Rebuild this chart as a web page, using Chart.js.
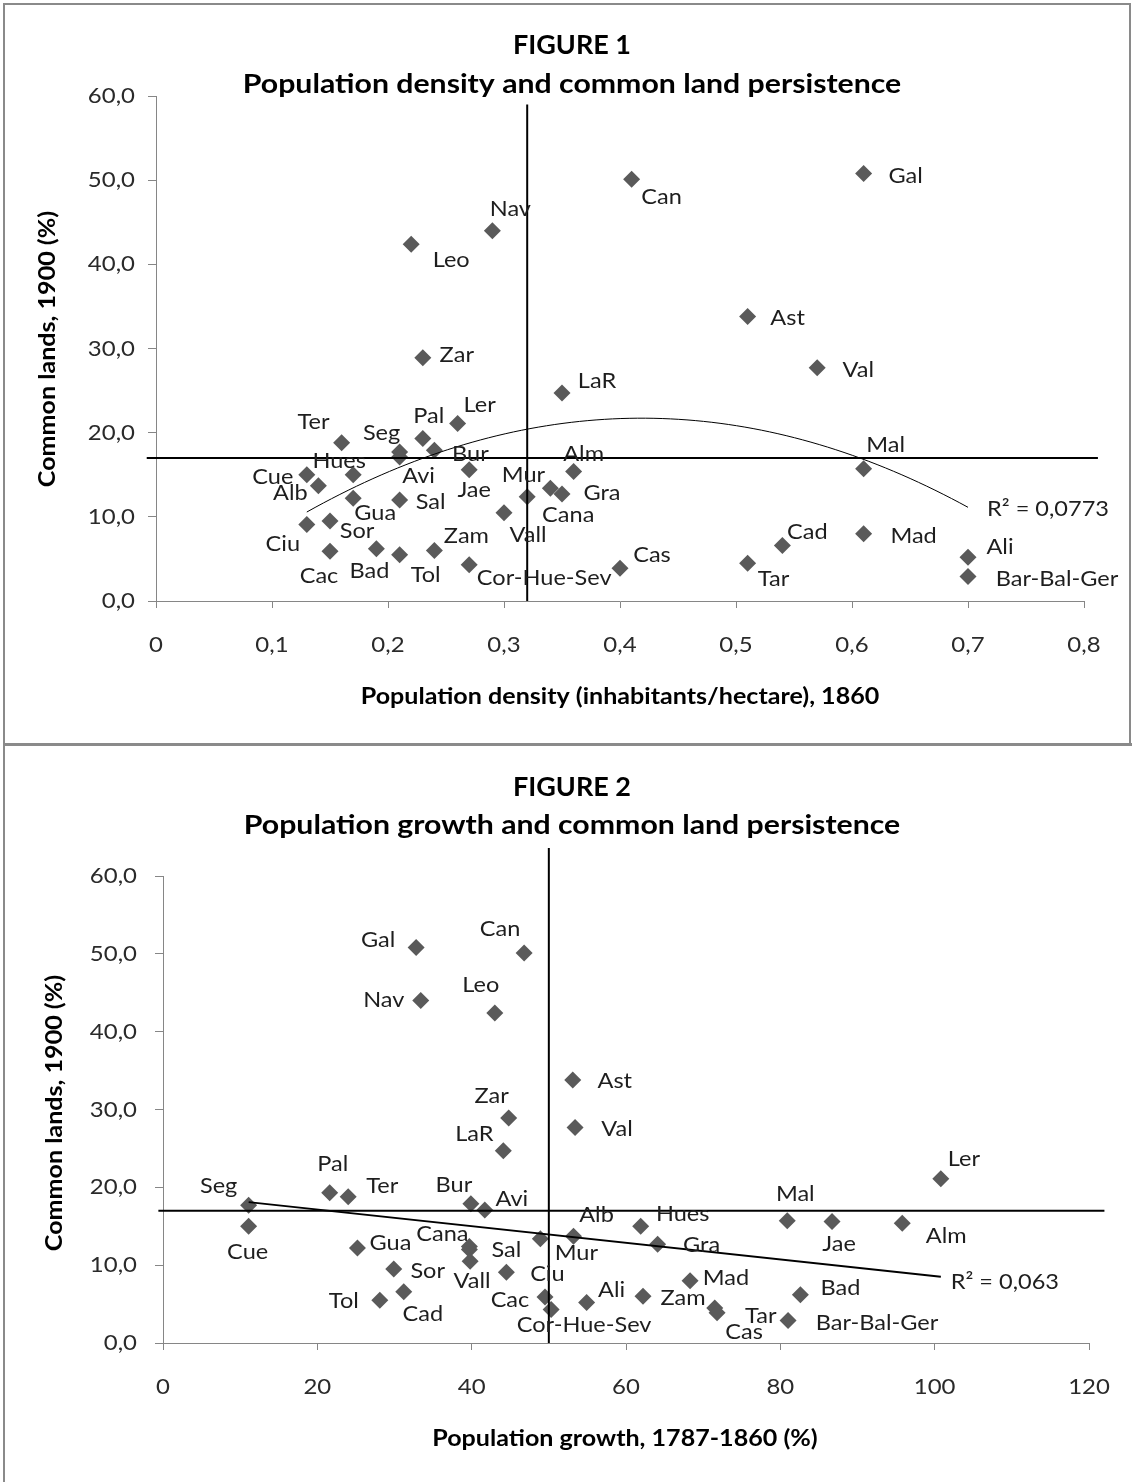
<!DOCTYPE html>
<html>
<head>
<meta charset="utf-8">
<script src="https://cdn.jsdelivr.net/npm/chart.js@4.4.1/dist/chart.umd.min.js"></script>
<style>
  body { margin: 0; background: #fff; }
  #page { position: relative; width: 1132px; height: 1482px; overflow: hidden; }
  canvas { position: absolute; left: 0; }
  #c1 { top: 0; }
  #c2 { top: 745px; }
  .frame { position: absolute; background: #8a8a8a; }
</style>
</head>
<body>
<div id="page">
  <div class="frame" style="left:3px;top:3px;width:1128px;height:2px"></div>
  <div class="frame" style="left:3px;top:3px;width:2px;height:1479px"></div>
  <div class="frame" style="left:1129px;top:3px;width:2px;height:742px"></div>
  <div class="frame" style="left:3px;top:743px;width:1129px;height:3px"></div>
  <canvas id="c1" width="1132" height="745"></canvas>
  <canvas id="c2" width="1132" height="737"></canvas>
</div>
<script>
// provinces, same order in every array
const provinces = ["Gal", "Can", "Nav", "Leo", "Ast", "Zar", "Val", "LaR", "Ler", "Pal",
  "Ter", "Bur", "Seg", "Avi", "Mal", "Jae", "Alm", "Hues", "Cue", "Alb",
  "Mur", "Gra", "Cana", "Gua", "Sal", "Vall", "Sor", "Ciu", "Mad", "Cad",
  "Bad", "Zam", "Cac", "Tol", "Ali", "Tar", "Cor-Hue-Sev", "Cas", "Bar-Bal-Ger"];

// common lands 1900 (%)
const commonLands = [50.8, 50.1, 44.0, 42.4, 33.8, 28.9, 27.7, 24.7, 21.1, 19.3,
  18.8, 17.9, 17.7, 17.1, 15.7, 15.6, 15.4, 15.0, 15.0, 13.7,
  13.4, 12.7, 12.4, 12.2, 12.0, 10.5, 9.5, 9.1, 8.0, 6.6,
  6.2, 6.0, 5.9, 5.5, 5.2, 4.5, 4.3, 3.9, 2.9];

// population density 1860 (inhabitants/hectare)
const density = [0.61, 0.41, 0.29, 0.22, 0.51, 0.23, 0.57, 0.35, 0.26, 0.23,
  0.16, 0.24, 0.21, 0.21, 0.61, 0.27, 0.36, 0.17, 0.13, 0.14,
  0.34, 0.35, 0.32, 0.17, 0.21, 0.30, 0.15, 0.13, 0.61, 0.54,
  0.19, 0.24, 0.15, 0.21, 0.70, 0.51, 0.27, 0.40, 0.70];

// population growth 1787-1860 (%)
const growth = [32.8, 46.8, 33.4, 43.0, 53.1, 44.8, 53.4, 44.1, 100.8, 21.6,
  24.0, 39.9, 11.1, 41.7, 80.9, 86.7, 95.8, 61.9, 11.1, 53.2,
  48.9, 64.1, 39.7, 25.2, 39.7, 39.8, 29.9, 44.5, 68.3, 31.2,
  82.6, 62.2, 49.5, 28.1, 54.9, 71.5, 50.3, 71.8, 81.0];

// reference lines (means)
const meanDensity = 0.32;
const meanGrowth = 50;
const meanCommon = 17.0;

// figure 2 linear trend at lowest / highest growth
const trendFig2 = [18.1, 8.5];

const r2Fig1 = "R² = 0,0773";
const r2Fig2 = "R² = 0,063";

const densityTicks = ["0", "0,1", "0,2", "0,3", "0,4", "0,5", "0,6", "0,7", "0,8"];
const growthTicks = ["0", "20", "40", "60", "80", "100", "120"];
const commonTicks = ["0,0", "10,0", "20,0", "30,0", "40,0", "50,0", "60,0"];

// where each data label sits relative to its marker (px)
const labelOffsets1 = {
  Gal: [42, 2], Can: [30, 18], Nav: [18, -22], Leo: [40, 16], Ast: [40, 1], Zar: [34, -3],
  Val: [41, 2], LaR: [35, -12], Ler: [22, -19], Pal: [6, -23], Ter: [-28, -21], Bur: [36, 4],
  Seg: [-18, -19], Avi: [19, 19], Mal: [22, -24], Jae: [5, 20], Alm: [10, -17], Hues: [-14, -14],
  Cue: [-34, 2], Alb: [-28, 7], Mur: [-27, -13], Gra: [40, -1], Cana: [41, 18], Gua: [22, 15],
  Sal: [31, 2], Vall: [24, 22], Sor: [27, 10], Ciu: [-24, 19], Mad: [50, 2], Cad: [25, -14],
  Bad: [-7, 22], Zam: [32, -15], Cac: [-11, 25], Tol: [26, 20], Ali: [32, -10], Tar: [26, 16],
  "Cor-Hue-Sev": [75, 13], Cas: [32, -13], "Bar-Bal-Ger": [89, 2]
};
const labelOffsets2 = {
  Gal: [-38, -8], Can: [-24, -24], Nav: [-37, -1], Leo: [-14, -28], Ast: [42, 1], Zar: [-17, -22],
  Val: [42, 2], LaR: [-29, -17], Ler: [23, -20], Pal: [3, -29], Ter: [34, -11], Bur: [-17, -19],
  Seg: [-30, -19], Avi: [27, -11], Mal: [8, -27], Jae: [7, 22], Alm: [44, 13], Hues: [42, -12],
  Cue: [-1, 26], Alb: [23, -21], Mur: [36, 14], Gra: [44, 1], Cana: [-27, -13], Gua: [33, -5],
  Sal: [37, 0], Vall: [2, 20], Sor: [34, 2], Ciu: [41, 2], Mad: [36, -3], Cad: [19, 22],
  Bad: [40, -7], Zam: [40, 2], Cac: [-35, 3], Tol: [-36, 1], Ali: [25, -13], Tar: [46, 8],
  "Cor-Hue-Sev": [33, 15], Cas: [27, 19], "Bar-Bal-Ger": [89, 2]
};

const FONT = "Lato";
const markerColor = "#5a5a5a";
const axisColor = "#868686";

// the original text is a bit wider than Lato, so stretch it horizontally
function stretchedText(ctx, text, x, y, font, sx, rot) {
  ctx.save();
  ctx.font = font;
  ctx.translate(x, y);
  if (rot) ctx.rotate(rot);
  ctx.scale(sx, 1);
  ctx.fillText(text, 0, 0);
  ctx.restore();
}

// least squares polynomial fit, returns coefficients a0..an
function polyFit(xs, ys, order) {
  const n = order + 1;
  const A = [];
  for (let r = 0; r < n; r++) {
    A.push(new Array(n + 1).fill(0));
  }
  xs.forEach((x, i) => {
    for (let r = 0; r < n; r++) {
      for (let c = 0; c < n; c++) A[r][c] += Math.pow(x, r + c);
      A[r][n] += ys[i] * Math.pow(x, r);
    }
  });
  for (let k = 0; k < n; k++) {
    for (let r = k + 1; r < n; r++) {
      const f = A[r][k] / A[k][k];
      for (let c = k; c <= n; c++) A[r][c] -= f * A[k][c];
    }
  }
  const coef = new Array(n).fill(0);
  for (let r = n - 1; r >= 0; r--) {
    let s = A[r][n];
    for (let c = r + 1; c < n; c++) s -= A[r][c] * coef[c];
    coef[r] = s / A[r][r];
  }
  return coef;
}

function quadTrend(xs, ys) {
  const coef = polyFit(xs, ys, 2);
  const lo = Math.min(...xs), hi = Math.max(...xs);
  const pts = [];
  for (let i = 0; i <= 80; i++) {
    const x = lo + (hi - lo) * i / 80;
    pts.push({ x: x, y: coef[0] + coef[1] * x + coef[2] * x * x });
  }
  return pts;
}

const pointLabels = {
  id: "pointLabels",
  afterDatasetsDraw(chart, args, opts) {
    const ctx = chart.ctx;
    const meta = chart.getDatasetMeta(0);
    const font = "22px " + FONT;
    ctx.save();
    ctx.fillStyle = "#1e1e1e";
    ctx.textAlign = "center";
    ctx.textBaseline = "middle";
    meta.data.forEach((pt, i) => {
      const off = opts.offsets[provinces[i]] || [25, 0];
      stretchedText(ctx, provinces[i], pt.x + off[0], pt.y + off[1], font, 1.07);
    });
    // R2 label next to the end of the trend line
    const tr = chart.getDatasetMeta(1).data;
    const end = tr[tr.length - 1];
    stretchedText(ctx, opts.r2, end.x + opts.r2Offset[0], end.y + opts.r2Offset[1], font, 1.07);
    ctx.restore();
  }
};

const decorations = {
  id: "decorations",
  afterDraw(chart, args, opts) {
    const ctx = chart.ctx;
    ctx.save();
    ctx.textBaseline = "middle";
    // tick labels
    ctx.fillStyle = "#2a2a2a";
    const tickFont = "22px " + FONT;
    const xs = chart.scales.x, ys = chart.scales.y;
    ctx.textAlign = "center";
    xs.ticks.forEach((t, i) => {
      stretchedText(ctx, opts.xTicks[i], xs.getPixelForValue(t.value), chart.chartArea.bottom + 44, tickFont, 1.09);
    });
    ctx.textAlign = "right";
    ys.ticks.forEach((t, i) => {
      stretchedText(ctx, commonTicks[i], chart.chartArea.left - opts.yGap, ys.getPixelForValue(t.value), tickFont, 1.09);
    });
    // titles
    ctx.fillStyle = "#000";
    ctx.textAlign = "center";
    opts.items.forEach(t => {
      stretchedText(ctx, t.text, t.x, t.y, t.font, t.sx, t.rot);
    });
    ctx.restore();
  }
};

function makeChart(canvasId, xs, cfg) {
  const pts = xs.map((x, i) => ({ x: x, y: commonLands[i] }));
  return new Chart(document.getElementById(canvasId), {
    type: "scatter",
    data: {
      datasets: [
        {
          data: pts,
          pointStyle: "rectRot",
          pointRadius: 8.5,
          backgroundColor: markerColor,
          borderColor: markerColor,
          borderWidth: 0,
          order: 1
        },
        {
          data: cfg.trend,
          showLine: true,
          pointRadius: 0,
          borderColor: "#000",
          borderWidth: cfg.trendWidth,
          order: 0
        },
        {
          data: cfg.hLine,
          showLine: true,
          pointRadius: 0,
          borderColor: "#000",
          borderWidth: 2,
          clip: false,
          order: 0
        },
        {
          data: cfg.vLine,
          showLine: true,
          pointRadius: 0,
          borderColor: "#000",
          borderWidth: 2,
          clip: false,
          order: 0
        }
      ]
    },
    options: {
      responsive: false,
      animation: false,
      events: [],
      layout: { padding: cfg.padding },
      plugins: {
        legend: { display: false },
        tooltip: { enabled: false },
        pointLabels: { offsets: cfg.offsets, r2: cfg.r2, r2Offset: cfg.r2Offset },
        decorations: { items: cfg.texts, xTicks: cfg.xTicks, yGap: cfg.yGap }
      },
      scales: {
        x: {
          type: "linear",
          min: cfg.xMin,
          max: cfg.xMax,
          afterBuildTicks: s => { s.ticks = cfg.xTicks.map((t, i) => ({ value: cfg.xMin + i * cfg.xStep })); },
          afterFit: s => { s.height = 60; },
          ticks: { display: false },
          grid: { drawOnChartArea: false, drawTicks: true, tickLength: 7, color: axisColor },
          border: { color: axisColor, width: 1 }
        },
        y: {
          min: 0,
          max: 60,
          afterBuildTicks: s => { s.ticks = commonTicks.map((t, i) => ({ value: i * 10 })); },
          afterFit: s => { s.width = cfg.yWidth; },
          ticks: { display: false },
          grid: { drawOnChartArea: false, drawTicks: true, tickLength: 8, color: axisColor },
          border: { color: axisColor, width: 1 }
        }
      }
    },
    plugins: [pointLabels, decorations]
  });
}

makeChart("c1", density, {
  trend: quadTrend(density, commonLands),
  trendWidth: 1,
  xMin: 0, xMax: 0.8, xStep: 0.1,
  xTicks: densityTicks,
  yWidth: 156,
  yGap: 21,
  padding: { left: 0, right: 48, top: 96, bottom: 84 },
  hLine: [{ x: -0.008, y: meanCommon }, { x: 0.812, y: meanCommon }],
  vLine: [{ x: meanDensity, y: 0 }, { x: meanDensity, y: 59 }],
  offsets: labelOffsets1,
  r2: r2Fig1,
  r2Offset: [80, 2],
  texts: [
    { text: "FIGURE 1", x: 572, y: 45, font: "bold 27px " + FONT, sx: 1.0 },
    { text: "Population density and common land persistence", x: 572, y: 84, font: "bold 27px " + FONT, sx: 1.12 },
    { text: "Population density (inhabitants/hectare), 1860", x: 620, y: 697, font: "bold 22px " + FONT, sx: 1.14 },
    { text: "Common lands, 1900 (%)", x: 48, y: 349, font: "bold 22px " + FONT, sx: 1.14, rot: -Math.PI / 2 }
  ]
});

makeChart("c2", growth, {
  trend: [{ x: Math.min(...growth), y: trendFig2[0] }, { x: Math.max(...growth), y: trendFig2[1] }],
  trendWidth: 2,
  xMin: 0, xMax: 120, xStep: 20,
  xTicks: growthTicks,
  yWidth: 163,
  yGap: 26,
  padding: { left: 0, right: 43, top: 131, bottom: 79 },
  hLine: [{ x: -0.6, y: meanCommon }, { x: 122, y: meanCommon }],
  vLine: [{ x: meanGrowth, y: 0 }, { x: meanGrowth, y: 63.6 }],
  offsets: labelOffsets2,
  r2: r2Fig2,
  r2Offset: [64, 5],
  texts: [
    { text: "FIGURE 2", x: 572, y: 42, font: "bold 27px " + FONT, sx: 1.0 },
    { text: "Population growth and common land persistence", x: 572, y: 80, font: "bold 27px " + FONT, sx: 1.12 },
    { text: "Population growth, 1787-1860 (%)", x: 625, y: 694, font: "bold 22px " + FONT, sx: 1.14 },
    { text: "Common lands, 1900 (%)", x: 55, y: 368, font: "bold 22px " + FONT, sx: 1.14, rot: -Math.PI / 2 }
  ]
});
</script>
</body>
</html>
